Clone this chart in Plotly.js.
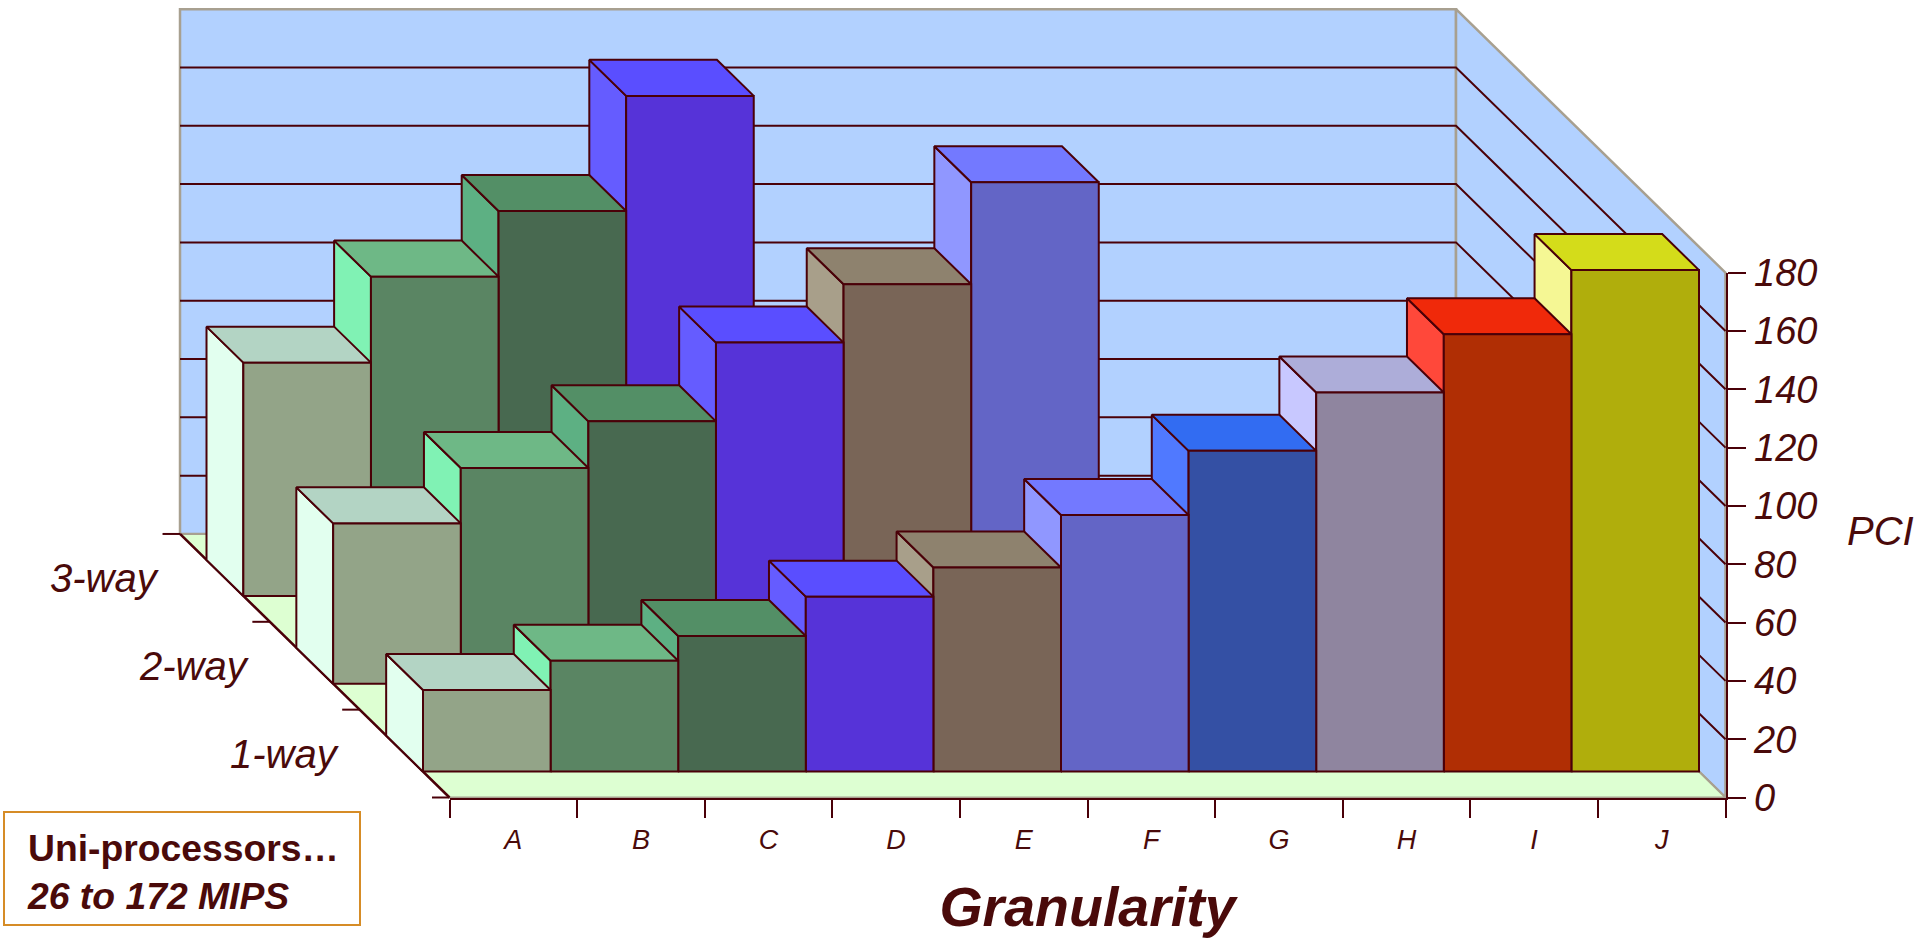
<!DOCTYPE html>
<html>
<head>
<meta charset="utf-8">
<script src="https://cdn.plot.ly/plotly-3.0.0.min.js"></script>
<style>html,body{margin:0;padding:0;background:#fff;overflow:hidden}#chart{width:1921px;height:938px}</style>
</head>
<body>
<div id="chart"></div>
<script>
// ---- data ----
const categories = ['A','B','C','D','E','F','G','H','I','J'];
const oneWay   = [28, 38, 46.5, 60, 70, 88, 110, 130, 150, 172];
const twoWay   = [55, 74, 90, 117, 137, 172];
const threeWay = [80, 109.5, 132, 171.5];
const rowNames = ['1-way','2-way','3-way'];
const yTicks   = [0,20,40,60,80,100,120,140,160,180];

// ---- styles ----
const frontColors = ['#93A488','#5A8563','#486950','#5633D8','#796557','#6365C6','#3450A4','#8F859F','#B02E04','#B0AE0C'];
const topColors   = ['#B3D4C4','#6EB886','#538F66','#5A4EFF','#8E826E','#7379FF','#326CF2','#ADADD9','#F0290A','#D4DC1A'];
const sideColors  = ['#E2FFEF','#80F2B4','#5DB083','#655CFF','#A89F8A','#9097FF','#5079FF','#C8C8FF','#FF483A','#F5F794'];
const ink = '#4A0008', wallEdge = '#A8A090', wallFill = '#B2D1FF', floorFill = '#DDFFD2', textInk = '#4A0A0A';

// ---- oblique projection in axis units ----
const depthX = -0.704, depthY = 30.13;
const barFront = 0.295, barBack = 0.705;
const px = (i, d) => i + d * depthX;
const py = (v, d) => v + d * depthY;
const nDepth = rowNames.length, nCat = categories.length, yMax = yTicks[yTicks.length - 1];

// ---- page geometry (pixels) ----
const W = 1921, H = 938;
const sceneL = 40, sceneR = 1730, sceneT = 4, sceneB = 802;   // full drawing area (hidden axes)
const axisL = 449.5, axisR = 1725.5, axisT = 272.7, axisB = 797.5; // visible axes
const unitX = (axisR - axisL) / nCat, unitY = (axisB - axisT) / yMax;
const paperX = p => (p - sceneL) / (sceneR - sceneL);
const paperY = p => (sceneB - p) / (sceneB - sceneT);

function poly(name, pts, fill, lineColor, lineWidth) {
  return {
    type: 'scatter', mode: 'lines', name, cliponaxis: false, hoverinfo: 'skip',
    xaxis: 'x', yaxis: 'y',
    x: pts.map(p => p[0] === null ? null : px(p[0], p[2])),
    y: pts.map(p => p[0] === null ? null : py(p[1], p[2])),
    fill: fill ? 'toself' : 'none', fillcolor: fill || undefined,
    line: { color: lineColor, width: lineWidth, simplify: false }
  };
}

const traces = [];
// walls and floor (points are [category position, value, depth])
traces.push(poly('back wall', [[0,0,nDepth],[nCat,0,nDepth],[nCat,yMax,nDepth],[0,yMax,nDepth],[0,0,nDepth]], wallFill, wallEdge, 2.5));
traces.push(poly('side wall', [[nCat,0,nDepth],[nCat,0,0],[nCat,yMax,0],[nCat,yMax,nDepth],[nCat,0,nDepth]], wallFill, wallEdge, 2.5));
traces.push(poly('floor', [[0,0,0],[nCat,0,0],[nCat,0,nDepth],[0,0,nDepth],[0,0,0]], floorFill, wallEdge, 2));
// grid lines on both walls
const grid = [];
yTicks.slice(1, -1).forEach(v => { grid.push([0,v,nDepth],[nCat,v,nDepth],[nCat,v,0],[null]); });
traces.push(poly('grid', grid, null, ink, 2));
// front-left floor edge and depth ticks
const depthTickLen = 0.137;
traces.push(poly('depth axis', [[0,0,0],[0,0,nDepth]], null, ink, 2.5));
for (let d = 0; d <= nDepth; d++) {
  traces.push(poly('depth tick', [[0,0,d],[-depthTickLen,0,d]], null, ink, 2));
}
// bars: back row first, right to left in every row
const rows = [oneWay, twoWay, threeWay];
for (let r = nDepth - 1; r >= 0; r--) {
  const vals = rows[r];
  for (let c = vals.length - 1; c >= 0; c--) {
    const v = vals[c], f = r + barFront, b = r + barBack, n = categories[c] + ' ' + rowNames[r];
    traces.push(poly(n + ' side',  [[c,0,f],[c,v,f],[c,v,b],[c,0,b],[c,0,f]], sideColors[c], ink, 2));
    traces.push(poly(n + ' top',   [[c,v,f],[c+1,v,f],[c+1,v,b],[c,v,b],[c,v,f]], topColors[c], ink, 2));
    traces.push(poly(n + ' front', [[c,0,f],[c+1,0,f],[c+1,v,f],[c,v,f],[c,0,f]], frontColors[c], ink, 2));
  }
}
// carrier trace that brings the visible axes to life
traces.push({
  type: 'scatter', mode: 'none', name: rowNames[0], xaxis: 'x2', yaxis: 'y2', hoverinfo: 'skip',
  x: categories.map((c, i) => i + 0.5), y: oneWay
});

// row labels next to the depth axis
const rowLabelShift = -0.94;
const annotations = rowNames.map((t, r) => ({
  text: t, xref: 'x', yref: 'y', x: px(rowLabelShift, r + 0.5), y: py(0, r + 0.5),
  xanchor: 'center', yanchor: 'middle', showarrow: false,
  font: { family: 'Liberation Sans', size: 40, style: 'italic', color: textInk }
}));
annotations.push({
  text: 'PCI', xref: 'paper', yref: 'paper', x: paperX(1880), y: paperY(531), xanchor: 'center', yanchor: 'middle',
  showarrow: false, font: { family: 'Liberation Sans', size: 40, style: 'italic', color: textInk }
});
annotations.push({
  text: '<b>Uni-processors…</b><br><b><i>26 to 172 MIPS</i></b>',
  xref: 'paper', yref: 'paper', x: paperX(25), y: paperY(871.5), xanchor: 'left', yanchor: 'middle',
  align: 'left', showarrow: false,
  font: { family: 'Liberation Sans', size: 37.3, color: textInk }
});
const shapes = [{
  type: 'rect', xref: 'paper', yref: 'paper', x0: paperX(4), x1: paperX(360), y0: paperY(812), y1: paperY(925),
  line: { color: '#D68C26', width: 2 }, fillcolor: '#FFFFFF'
}];

const hiddenAxis = { visible: false, fixedrange: true, showgrid: false, zeroline: false };
const layout = {
  width: W, height: H,
  margin: { l: sceneL, r: W - sceneR, t: sceneT, b: H - sceneB, pad: 0 },
  paper_bgcolor: '#FFFFFF', plot_bgcolor: 'rgba(0,0,0,0)',
  showlegend: false, dragmode: false, hovermode: false,
  xaxis: Object.assign({}, hiddenAxis, { domain: [0, 1], anchor: 'y',
    range: [(sceneL - axisL) / unitX, nCat + (sceneR - axisR) / unitX] }),
  yaxis: Object.assign({}, hiddenAxis, { domain: [0, 1], anchor: 'x',
    range: [(axisB - sceneB) / unitY, (axisB - sceneT) / unitY] }),
  xaxis2: {
    domain: [paperX(axisL), paperX(axisR)], anchor: 'y2',
    range: [0, nCat], tickmode: 'array',
    tickvals: categories.map((c, i) => i + 0.5), ticktext: categories,
    ticks: '', ticklabelstandoff: 17, showgrid: false, zeroline: false, fixedrange: true,
    showline: true, linecolor: ink, linewidth: 2.5,
    tickfont: { family: 'Liberation Sans', size: 27, style: 'italic', color: textInk },
    minor: { tickmode: 'array', tickvals: categories.map((c, i) => i).concat([nCat]), ticks: 'outside', ticklen: 18, tickwidth: 2, tickcolor: ink, showgrid: false },
    title: { text: 'Granularity', standoff: 43, font: { family: 'Liberation Sans', size: 55.5, weight: 'bold', style: 'italic', color: textInk } }
  },
  yaxis2: {
    domain: [paperY(axisB), paperY(axisT)], anchor: 'x2',
    range: [0, yMax], side: 'right', tickmode: 'array', tickvals: yTicks, ticktext: yTicks.map(String),
    ticks: 'outside', ticklen: 18, tickwidth: 2, tickcolor: ink, ticklabelstandoff: 1,
    showgrid: false, zeroline: false, fixedrange: true, showline: true, linecolor: ink, linewidth: 2,
    tickfont: { family: 'Liberation Sans', size: 38, style: 'italic', color: textInk }
  },
  annotations, shapes
};
Plotly.newPlot('chart', traces, layout, { displayModeBar: false, staticPlot: true });
</script>
</body>
</html>
